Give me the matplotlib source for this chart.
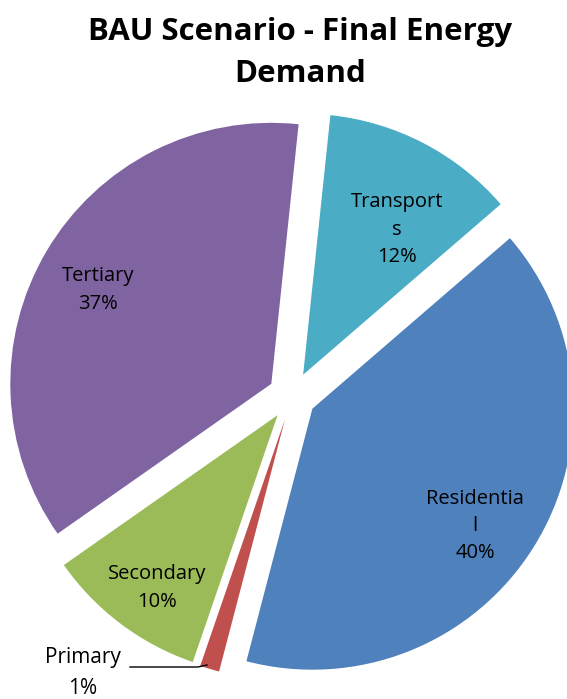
import matplotlib.pyplot as plt

labels = ['Transports', 'Residential', 'Primary', 'Secondary', 'Tertiary']
values = [12.0, 40.4, 1.2, 10.0, 36.4]
colors = ['#4BACC6', '#4F81BD', '#C0504D', '#9BBB59', '#8064A2']
# Excel-style wrapped label text
label_text = ['Transport\ns\n12%', 'Residentia\nl\n40%', 'Primary\n1%',
              'Secondary\n10%', 'Tertiary\n37%']

W, H = 567, 699
fig = plt.figure(figsize=(W / 100, H / 100), dpi=100)
ax = fig.add_axes([0, 0, 1, 1])

cx, cy, R = 292, H - 396, 261
# explode is in data units here (pixels)
ax.pie(values, colors=colors, startangle=84, counterclock=False,
       explode=[24] * len(values), radius=R, center=(cx, cy),
       wedgeprops=dict(linewidth=0))

ax.set_xlim(0, W)
ax.set_ylim(0, H)
ax.set_aspect('equal')
ax.axis('off')

font = 'Open Sans'
fs = 14.5
lab_pos = {'Transports': (397, 230), 'Residential': (475, 526),
           'Tertiary': (98, 290), 'Secondary': (157, 588)}
for name, txt in zip(labels, label_text):
    if name in lab_pos:
        x, y = lab_pos[name]
        ax.text(x, H - y, txt, ha='center', va='center', fontsize=fs,
                family=font, linespacing=1.5)

# Primary sits outside with a leader line
ax.text(83, H - 657, 'Primary', ha='center', va='center', fontsize=15, family=font)
ax.text(83, H - 688, '1%', ha='center', va='center', fontsize=15, family=font)
ax.plot([130, 198, 207], [H - 667, H - 667, H - 665], color='black', lw=1)

fig.text(300 / W, 1 - 53 / H, 'BAU Scenario - Final Energy\nDemand', ha='center',
         va='center', fontsize=22.5, fontweight='bold', family=font, linespacing=1.5)

fig.savefig('out.png', dpi=100)
